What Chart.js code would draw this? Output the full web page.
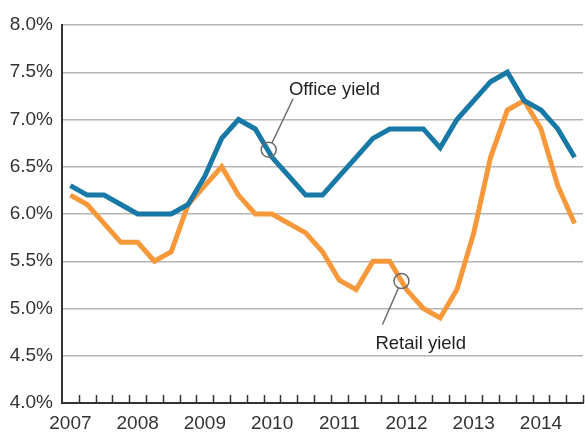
<!DOCTYPE html>
<html>
<head>
<meta charset="utf-8">
<script src="https://cdn.jsdelivr.net/npm/chart.js@4"></script>
<style>
  html, body { margin: 0; padding: 0; background: #fff; }
  #wrap { width: 585px; height: 432px; }
</style>
</head>
<body>
<div id="wrap"><canvas id="chart" width="585" height="432"></canvas></div>
<script>
// quarterly data, 2007 Q1 to 2014 Q3
let years = ['2007', '2008', '2009', '2010', '2011', '2012', '2013', '2014'];
let quarters = ['Q1', 'Q2', 'Q3', 'Q4'];
let office_yield = [6.3, 6.2, 6.2, 6.1, 6.0, 6.0, 6.0, 6.1, 6.4, 6.8, 7.0, 6.9,
  6.6, 6.4, 6.2, 6.2, 6.4, 6.6, 6.8, 6.9, 6.9, 6.9, 6.7, 7.0,
  7.2, 7.4, 7.5, 7.2, 7.1, 6.9, 6.6];
let retail_yield = [6.2, 6.1, 5.9, 5.7, 5.7, 5.5, 5.6, 6.1, 6.3, 6.5, 6.2, 6.0,
  6.0, 5.9, 5.8, 5.6, 5.3, 5.2, 5.5, 5.5, 5.2, 5.0, 4.9, 5.2,
  5.8, 6.6, 7.1, 7.2, 6.9, 6.3, 5.9];
let y_ticks = [4.0, 4.5, 5.0, 5.5, 6.0, 6.5, 7.0, 7.5, 8.0];

// build the category labels
let labels = [];
years.forEach(y => quarters.forEach(q => labels.push(y + ' ' + q)));
labels = labels.slice(0, office_yield.length);

const label_font = { family: "'Liberation Sans Narrow', 'Liberation Sans', Arial, sans-serif", size: 19 };

// draws the small tick marks on the inside of the x axis and the two callouts
const extras = {
  id: 'extras',
  afterDraw(chart) {
    let ctx = chart.ctx;
    let x = chart.scales.x;
    let y = chart.scales.y;
    let area = chart.chartArea;
    ctx.save();
    // tick marks at quarter boundaries
    ctx.strokeStyle = '#333';
    ctx.lineWidth = 1.5;
    for (let i = 1; i <= labels.length; i++) {
      let px = Math.round(x.getPixelForValue(i - 0.5)) + 0.5;
      ctx.beginPath();
      ctx.moveTo(px, area.bottom);
      ctx.lineTo(px, area.bottom - 8);
      ctx.stroke();
    }
    // callout helper
    function callout(ci, cv, li, lv, ti, tv, text) {
      let cx = x.getPixelForValue(ci), cy = y.getPixelForValue(cv);
      let lx = x.getPixelForValue(li), ly = y.getPixelForValue(lv);
      let r = 7.5;
      let ang = Math.atan2(ly - cy, lx - cx);
      ctx.strokeStyle = '#6b6b6b';
      ctx.lineWidth = 1.5;
      ctx.beginPath();
      ctx.arc(cx, cy, r, 0, Math.PI * 2);
      ctx.stroke();
      ctx.beginPath();
      ctx.moveTo(cx + r * Math.cos(ang), cy + r * Math.sin(ang));
      ctx.lineTo(lx, ly);
      ctx.stroke();
      ctx.fillStyle = '#231f20';
      ctx.font = "18.5px 'Liberation Sans', Arial, sans-serif";
      ctx.textAlign = 'left';
      ctx.textBaseline = 'alphabetic';
      ctx.fillText(text, x.getPixelForValue(ti), y.getPixelForValue(tv));
    }
    callout(11.8, 6.68, 13.25, 7.22, 13.0, 7.26, 'Office yield');
    callout(19.7, 5.29, 18.57, 4.83, 18.15, 4.57, 'Retail yield');
    ctx.restore();
  }
};

let ctx = document.getElementById('chart').getContext('2d');
window.myChart = new Chart(ctx, {
  type: 'line',
  data: {
    labels: labels,
    datasets: [{
      label: 'Office yield',
      data: office_yield,
      borderColor: '#1979a6',
      borderWidth: 5,
      pointRadius: 0,
      tension: 0,
      fill: false
    }, {
      label: 'Retail yield',
      data: retail_yield,
      borderColor: '#f7993b',
      borderWidth: 5,
      pointRadius: 0,
      tension: 0,
      fill: false
    }]
  },
  options: {
    responsive: false,
    animation: false,
    layout: { padding: { top: 25, right: 2, left: 0, bottom: 0 } },
    plugins: {
      legend: { display: false },
      tooltip: { enabled: false }
    },
    scales: {
      x: {
        offset: true,
        grid: { display: false, drawTicks: false },
        border: { display: true, color: '#333', width: 2 },
        ticks: {
          autoSkip: false,
          maxRotation: 0,
          padding: 9,
          color: '#333',
          font: label_font,
          callback: function (value, index) {
            return index % 4 === 0 ? labels[index].slice(0, 4) : '';
          }
        },
        afterFit: scale => { scale.height = 29; }
      },
      y: {
        min: 4,
        max: 8,
        afterBuildTicks: scale => { scale.ticks = y_ticks.map(v => ({ value: v })); },
        grid: { color: '#b5b5b5', lineWidth: 1.5, drawTicks: false },
        border: { display: true, color: '#333', width: 2 },
        ticks: {
          padding: 9,
          color: '#333',
          font: label_font,
          callback: v => v.toFixed(1) + '%'
        },
        afterFit: scale => { scale.width = 62; }
      }
    }
  },
  plugins: [extras]
});
</script>
</body>
</html>
